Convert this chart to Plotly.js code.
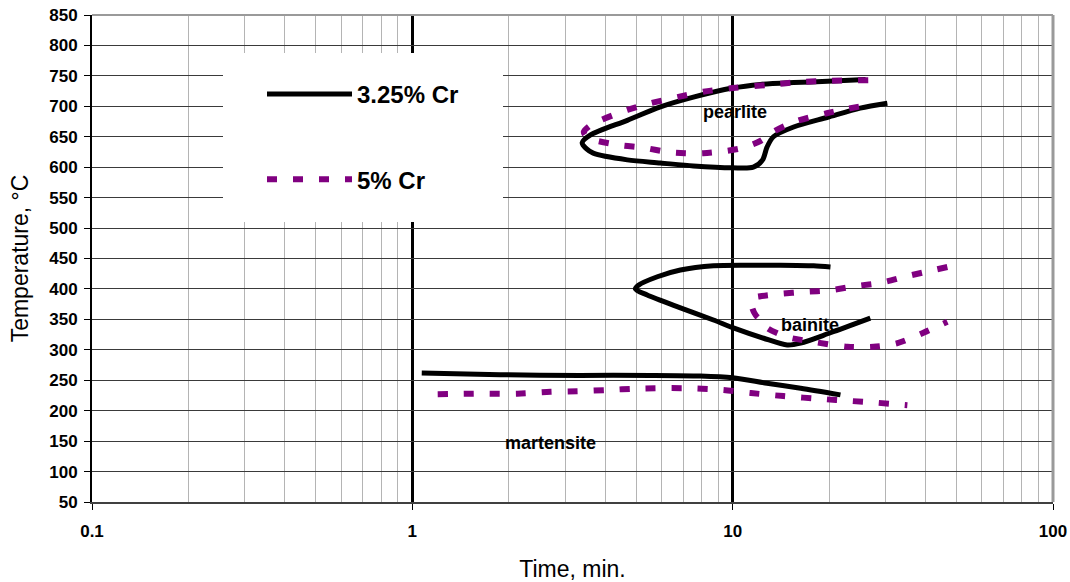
<!DOCTYPE html>
<html>
<head>
<meta charset="utf-8">
<script src="https://cdn.plot.ly/plotly-3.0.1.min.js"></script>
<style>html,body{margin:0;padding:0;background:#fff;}#chart{width:1070px;height:582px;}</style>
</head>
<body>
<div id="chart"></div>
<script>
// ---- 3.25% Cr (black, solid) ----
var cr325PearliteTime = [26.0, 19.8, 15.5, 12.2, 9.98, 7.54, 5.95, 4.69, 3.60, 3.39, 3.50, 3.67, 4.69, 5.95, 7.54, 9.98, 11.6, 12.4, 12.8, 13.4, 15.5, 19.8, 25.0, 30.4];
var cr325PearliteTemp = [744, 741, 739, 736, 730, 715, 699, 677, 653, 640, 630, 623, 612, 607, 602, 599, 600, 612, 633, 650, 666, 682, 697, 705];
var cr325BainiteTime = [20.2, 17.9, 14.1, 11.1, 8.71, 6.87, 5.82, 5.08, 4.97, 5.41, 6.87, 8.71, 10.05, 12.5, 14.8, 16.3, 20.2, 26.9];
var cr325BainiteTemp = [436, 438, 439, 439, 438, 431, 420, 406, 400, 390, 369, 349, 336, 319, 308, 311, 328, 352];
var cr325MartensiteTime = [1.07, 1.88, 3.34, 5.53, 7.93, 10.0, 12.8, 16.3, 21.7];
var cr325MartensiteTemp = [262, 259, 258, 258, 257, 254, 245, 237, 226];

// ---- 5% Cr (purple, dashed) ----
var cr5PearliteTime = [26.5, 20.2, 16.3, 12.8, 10.0, 8.10, 6.72, 5.53, 4.69, 3.86, 3.60, 3.43, 3.50, 3.67, 4.46, 5.26, 6.25, 7.10, 8.10, 9.62, 10.8, 12.2, 13.4, 15.5, 19.8, 26.3];
var cr5PearliteTemp = [743, 742, 740, 735, 730, 724, 715, 705, 694, 677, 669, 658, 650, 645, 636, 632, 625, 623, 623, 627, 632, 643, 658, 674, 689, 702];
var cr5BainiteTime = [46.8, 35.1, 28.9, 24.5, 20.2, 16.6, 14.1, 12.2, 11.6, 11.5, 11.8, 12.5, 12.8, 14.8, 17.9, 22.8, 27.5, 32.7, 39.4, 46.8];
var cr5BainiteTemp = [436, 421, 410, 405, 398, 395, 392, 388, 385, 370, 357, 344, 336, 321, 313, 305, 305, 311, 328, 346];
var cr5MartensiteTime = [1.20, 1.63, 2.13, 2.70, 3.27, 4.06, 4.90, 7.02, 9.35, 11.4, 14.4, 19.2, 23.3, 28.3, 35.1];
var cr5MartensiteTemp = [227, 228, 228, 231, 232, 234, 236, 237, 234, 229, 224, 219, 216, 213, 209];

var seriesNames = ["3.25% Cr", "5% Cr"];
var regionLabels = ["pearlite", "bainite", "martensite"];
var regionTime = [10.2, 17.4, 2.70];
var regionTemp = [691, 341, 147];
var xTickVals = [0.1, 1, 10, 100];
var xTickText = ["0.1", "1", "10", "100"];

function joinSegs(segs) {
  var out = [];
  segs.forEach(function (s, i) { if (i > 0) out.push(null); out = out.concat(s); });
  return out;
}

var FONT = "Arial, 'Liberation Sans', sans-serif";

var traces = [
  {
    x: joinSegs([cr325PearliteTime, cr325BainiteTime, cr325MartensiteTime]),
    y: joinSegs([cr325PearliteTemp, cr325BainiteTemp, cr325MartensiteTemp]),
    name: seriesNames[0], mode: "lines", connectgaps: false,
    line: {color: "#000000", width: 5, shape: "spline", smoothing: 0.8},
    legendgroup: "a", hoverinfo: "x+y"
  },
  {
    x: joinSegs([cr5PearliteTime, cr5BainiteTime, cr5MartensiteTime]),
    y: joinSegs([cr5PearliteTemp, cr5BainiteTemp, cr5MartensiteTemp]),
    name: seriesNames[1], mode: "lines", connectgaps: false,
    line: {color: "#800080", width: 6, dash: "10px,16px", shape: "spline", smoothing: 0.8},
    legendgroup: "b", hoverinfo: "x+y"
  }
];

var annotations = regionLabels.map(function (t, i) {
  return {
    x: Math.log10(regionTime[i]), y: regionTemp[i], xref: "x", yref: "y",
    text: "<b>" + t + "</b>", showarrow: false,
    font: {family: FONT, size: 18, color: "#000"}
  };
});

var layout = {
  width: 1070, height: 582,
  margin: {l: 92, r: 17, t: 15, b: 80},
  paper_bgcolor: "#ffffff", plot_bgcolor: "#ffffff",
  font: {family: FONT, color: "#000"},
  showlegend: true,
  legend: {
    x: (262 - 92) / 961, y: (502 - 72) / 487, xanchor: "left", yanchor: "top",
    bgcolor: "rgba(0,0,0,0)", borderwidth: 0,
    itemwidth: 85, traceorder: "grouped", tracegroupgap: 51,
    font: {family: FONT, size: 24, color: "#000", weight: "bold"}
  },
  xaxis: {
    type: "log", range: [-1, 2],
    tickvals: xTickVals, ticktext: xTickText,
    ticks: "outside", ticklen: 6, tickcolor: "#000", tickwidth: 1,
    ticklabelstandoff: 7,
    tickfont: {family: FONT, size: 17, weight: "bold"},
    showgrid: true, gridcolor: "#000", gridwidth: 3,
    minor: {dtick: "D1", showgrid: true, gridcolor: "#b4b4b4", gridwidth: 1, ticks: ""},
    showline: true, linecolor: "#404040", linewidth: 2,
    zeroline: false,
    title: {text: "Time, min.", font: {family: FONT, size: 23}, standoff: 24},
    automargin: false
  },
  yaxis: {
    range: [50, 850], dtick: 50, tick0: 50,
    ticks: "outside", ticklen: 6, tickcolor: "#000", tickwidth: 1,
    ticklabelstandoff: 3,
    tickfont: {family: FONT, size: 17, weight: "bold"},
    showgrid: true, gridcolor: "#3a3a3a", gridwidth: 1,
    showline: true, linecolor: "#000", linewidth: 2,
    zeroline: false,
    title: {text: "Temperature, °C", font: {family: FONT, size: 23}, standoff: 14},
    automargin: false
  },
  shapes: [
    {type: "line", xref: "x domain", yref: "y domain", x0: 0, x1: 1, y0: 1, y1: 1,
     line: {color: "#9a9a9a", width: 2}, layer: "above"},
    {type: "line", xref: "x domain", yref: "y domain", x0: 1, x1: 1, y0: 0, y1: 1,
     line: {color: "#9a9a9a", width: 3}, layer: "above"},
    {type: "rect", xref: "paper", yref: "paper",
     x0: (223 - 92) / 961, x1: (503 - 92) / 961, y0: (502 - 222) / 487, y1: (502 - 53) / 487,
     fillcolor: "#ffffff", line: {width: 0}, layer: "above"}
  ],
  annotations: annotations
};

Plotly.newPlot("chart", traces, layout, {displayModeBar: false, staticPlot: true});
</script>
</body>
</html>
